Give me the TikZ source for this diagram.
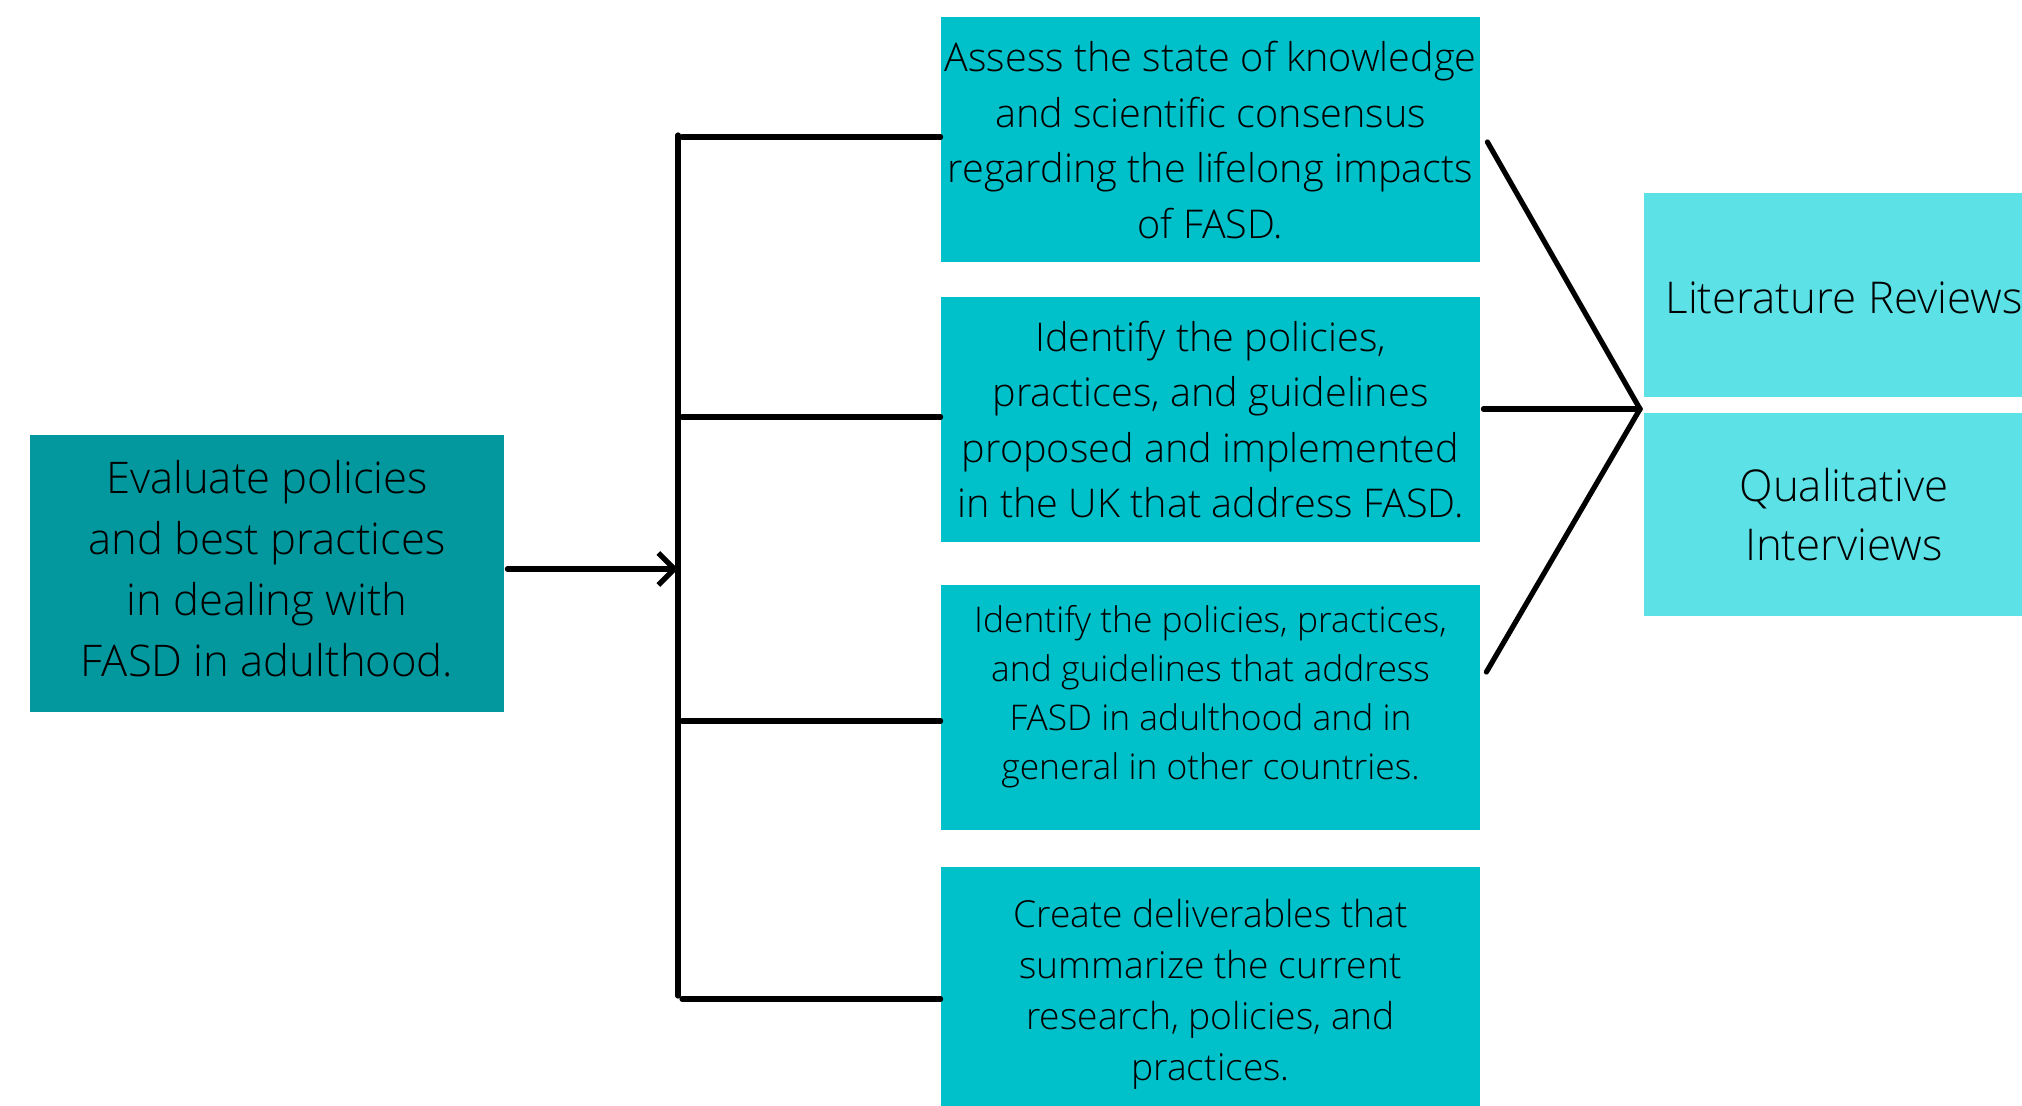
\documentclass[tikz,border=0pt]{standalone}
\usepackage{fontspec}
\IfFontExistsTF{Open Sans Light}{\setmainfont{Open Sans Light}}{\setmainfont{Open Sans}}
\usetikzlibrary{arrows.meta,calc}
\definecolor{tealdark}{HTML}{03989E}
\definecolor{tealmid}{HTML}{00C0CA}
\definecolor{teallight}{HTML}{5CE1E6}
\tikzset{
  basebox/.style={rectangle, inner sep=0pt, align=center, text=black},
  goalbox/.style={basebox, fill=tealdark, minimum width=237pt, minimum height=138.5pt,
    font=\fontsize{21.8}{30.5}\selectfont},
  objbox/.style={basebox, fill=tealmid, minimum width=269.5pt, minimum height=122.5pt,
    font=\fontsize{19.8}{27.7}\selectfont},
  methbox/.style={basebox, fill=teallight, minimum width=200pt, minimum height=101.75pt,
    font=\fontsize{21.9}{29.5}\selectfont},
  link/.style={line width=2.6pt, line cap=round, draw=black},
}
\begin{document}
\begin{tikzpicture}[x=0.5pt,y=-0.5pt]
\useasboundingbox (0,0) rectangle (2022,1106);
\clip (0,0) rectangle (2022,1106);
\fill[white] (0,0) rectangle (2022,1106);

\node[goalbox, label={[basebox, font=\fontsize{21.8}{30.5}\selectfont, yshift=2.5pt]center:{Evaluate policies\\and best practices\\in dealing with\\FASD in adulthood.}}] (goal) at (267,573.5) {};

\node[objbox] (A) at (1210.5,140) {Assess the state of knowledge\\and scientific consensus\\regarding the lifelong impacts\\of FASD.};
\node[objbox] (B) at (1210.5,419.5) {Identify the policies,\\practices, and guidelines\\proposed and implemented\\in the UK that address FASD.};
\node[objbox, label={[basebox, font=\fontsize{17.7}{24.5}\selectfont, yshift=5.2pt]center:{Identify the policies, practices,\\and guidelines that address\\FASD in adulthood and in\\general in other countries.}}] (C) at (1210.5,707.5) {};
\node[objbox, label={[basebox, font=\fontsize{18.6}{25.5}\selectfont, yshift=-2.5pt]center:{Create deliverables that\\summarize the current\\research, policies, and\\practices.}}] (D) at (1210.5,989.5) {};

\node[methbox, label={[basebox, font=\fontsize{21.9}{29.5}\selectfont, yshift=-1.3pt]center:{Literature Reviews}}] (LR) at (1844,295) {};
\node[methbox] (QI) at (1844,514.5) {Qualitative\\Interviews};

% trunk
\coordinate (hub) at (678,569);
\coordinate (tA) at (678,137);
\coordinate (tB) at (678,417);
\coordinate (tC) at (678,721);
\coordinate (tD) at (678,999);
\coordinate (ttop) at (678,135);
\coordinate (tbot) at (678,996);
\draw[link] (ttop) -- (tbot);
\draw[link, -{Straight Barb[length=8pt,width=16pt]}] ([xshift=1.5pt]goal.east |- hub) -- (hub);
\draw[link] ([xshift=2pt]tA) -- (tA -| A.west);
\draw[link] ([xshift=2pt]tB) -- (tB -| B.west);
\draw[link] ([xshift=2pt]tC) -- (tC -| C.west);
\draw[link] ([xshift=2pt]tD) -- (tD -| D.west);

% junction to methods
\coordinate (J) at (1640,409);
\draw[link] ($(A.east)+(3.5pt,-1pt)$) -- (J);
\draw[link] ([xshift=1.5pt]B.east |- J) -- (J);
\draw[link] ($(C.east)+(3pt,17.75pt)$) -- (J);
\end{tikzpicture}
\end{document}
